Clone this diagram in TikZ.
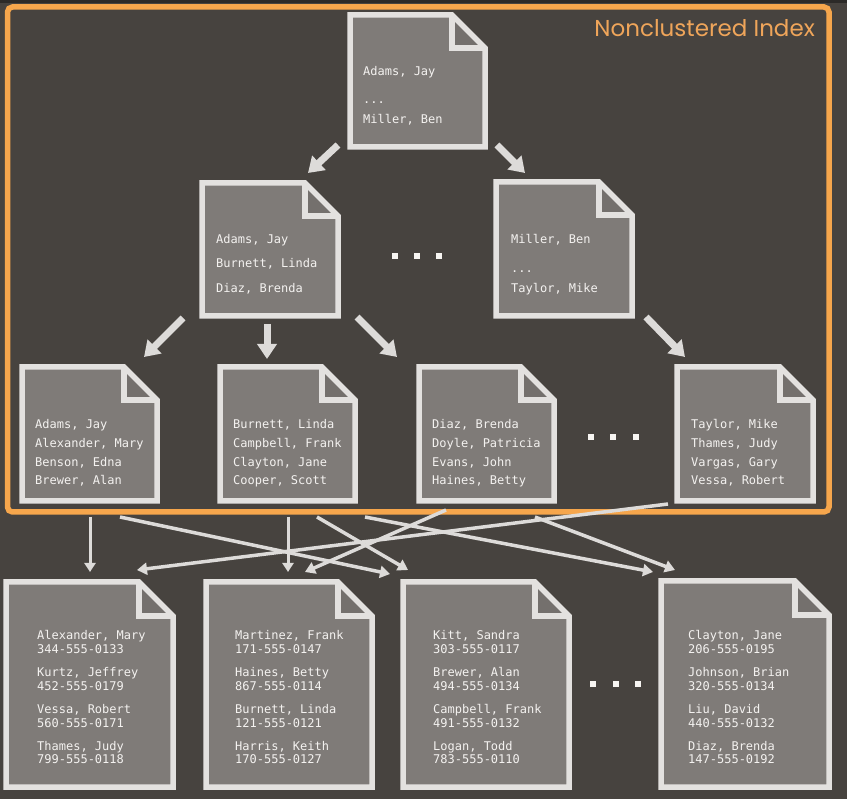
\documentclass[tikz,border=0pt]{standalone}
\usepackage{fontspec}
\newfontfamily\monof{DejaVu Sans Mono}
\newfontfamily\titlef{Poppins}
\usetikzlibrary{arrows.meta}
\definecolor{bgc}{HTML}{47433F}
\definecolor{topc}{HTML}{2C2A28}
\definecolor{pfill}{HTML}{7F7B78}
\definecolor{ffill}{HTML}{74706D}
\definecolor{pline}{HTML}{E3E1DF}
\definecolor{txtc}{HTML}{F4F2F0}
\definecolor{orangec}{HTML}{F6A64C}
\definecolor{titlec}{HTML}{EFA55A}
\definecolor{arrc}{HTML}{DDDBD9}
\definecolor{dotc}{HTML}{F7F5F2}
\newcommand\docpage[6]{%
  \node[pageframe, minimum width={(#4-#2)*1pt}, minimum height={(#5-#3)*1pt}] (#1) at ({(#2+#4)/2},{(#3+#5)/2}) {};
  \fill[pfill] (#2,#3) -- ({#4-#6},#3) -- (#4,{#3+#6}) -- (#4,#5) -- (#2,#5) -- cycle;
  \fill[ffill] ({#4-#6},#3) -- ({#4-#6},{#3+#6}) -- (#4,{#3+#6}) -- cycle;
  \draw[pageline] (#2,#3) -- ({#4-#6},#3) -- (#4,{#3+#6}) -- (#4,#5) -- (#2,#5) -- cycle;
  \draw[pageline] ({#4-#6},#3) -- ({#4-#6},{#3+#6}) -- (#4,{#3+#6});
}
\begin{document}
\begin{tikzpicture}[x=1pt,y=-1pt,
  pageframe/.style={shape=rectangle, inner sep=0pt, draw=none},
  pageline/.style={draw=pline, line width=5.5pt, line join=miter},
  txt/.style={text=txtc, align=left, inner sep=0pt, anchor=base west, font=\monof\fontsize{12}{14}\selectfont},
  idxtxt/.style={txt, anchor=north west, font=\monof\fontsize{12}{18.7}\selectfont},
  datatxt/.style={txt, anchor=north west, font=\monof\fontsize{12}{13.5}\selectfont},
  bigarr/.style={draw=arrc, line width=7pt, -{Triangle[width=19pt,length=15pt]}},
  smallarr/.style={draw=arrc, line width=3pt, -{Triangle[width=11pt,length=9pt]}},
  crossarr/.style={draw=arrc, line width=3.5pt, -{Triangle[width=12pt,length=10pt]}},
  dotsq/.style={fill=dotc, minimum size=6pt, inner sep=0pt, shape=rectangle},
  orangebox/.style={draw=orangec, line width=5.5pt, rounded corners=5pt}
]
\fill[bgc] (0,0) rectangle (847,799);
\useasboundingbox (0,0) rectangle (847,799);
\fill[topc] (0,0) rectangle (847,3);

% orange frame and title
\draw[orangebox] (7.5,7) rectangle (829,512);
\node[anchor=base east, text=titlec, inner sep=0pt, font=\titlef\fontsize{23}{23}\selectfont] (title) at (815,37) {Nonclustered Index};

% root page
\docpage{root}{350}{15}{485}{147}{33}
\node[txt] (rootT1) at (363,76) {Adams, Jay};
\node[txt] (rootT2) at (363,104) {...};
\node[txt] (rootT3) at (363,123.5) {Miller, Ben};

% level 2
\docpage{midL}{202}{183}{338}{316}{33}
\node[txt] (midLT1) at (216,243.5) {Adams, Jay};
\node[txt] (midLT2) at (216,268) {Burnett, Linda};
\node[txt] (midLT3) at (216,292.5) {Diaz, Brenda};
\docpage{midR}{496}{182}{632}{316}{33}
\node[txt] (midRT1) at (511,243.5) {Miller, Ben};
\node[txt] (midRT2) at (511,273) {...};
\node[txt] (midRT3) at (511,292.5) {Taylor, Mike};

% leaves
\docpage{leafA}{22}{367}{157}{501}{33}
\node[idxtxt] (leafAT) at (35,419.4) {Adams, Jay\\Alexander, Mary\\Benson, Edna\\Brewer, Alan};
\docpage{leafB}{220}{367}{355}{501}{33}
\node[idxtxt] (leafBT) at (233,419.4) {Burnett, Linda\\Campbell, Frank\\Clayton, Jane\\Cooper, Scott};
\docpage{leafC}{419}{367}{554}{501}{33}
\node[idxtxt] (leafCT) at (432,419.4) {Diaz, Brenda\\Doyle, Patricia\\Evans, John\\Haines, Betty};
\docpage{leafD}{677}{367}{813}{501}{33}
\node[idxtxt] (leafDT) at (691,419.4) {Taylor, Mike\\Thames, Judy\\Vargas, Gary\\Vessa, Robert};

% data pages
\docpage{dataA}{6}{582}{173}{787}{34}
\node[datatxt] (dataAT) at (37,630.4) {Alexander, Mary\\344-555-0133\\[9.9pt]Kurtz, Jeffrey\\452-555-0179\\[9.9pt]Vessa, Robert\\560-555-0171\\[9.9pt]Thames, Judy\\799-555-0118};
\docpage{dataB}{206}{582}{372}{787}{34}
\node[datatxt] (dataBT) at (235,630.4) {Martinez, Frank\\171-555-0147\\[9.9pt]Haines, Betty\\867-555-0114\\[9.9pt]Burnett, Linda\\121-555-0121\\[9.9pt]Harris, Keith\\170-555-0127};
\docpage{dataC}{403}{582}{569}{787}{34}
\node[datatxt] (dataCT) at (433,630.4) {Kitt, Sandra\\303-555-0117\\[9.9pt]Brewer, Alan\\494-555-0134\\[9.9pt]Campbell, Frank\\491-555-0132\\[9.9pt]Logan, Todd\\783-555-0110};
\docpage{dataD}{661}{581}{829}{787}{34}
\node[datatxt] (dataDT) at (688,630.4) {Clayton, Jane\\206-555-0195\\[9.9pt]Johnson, Brian\\320-555-0134\\[9.9pt]Liu, David\\440-555-0132\\[9.9pt]Diaz, Brenda\\147-555-0192};

% ellipsis dots
\foreach \i/\x in {1/395,2/417,3/439} \node[dotsq] (dm\i) at (\x,256) {};
\foreach \i/\x in {1/591,2/613,3/636} \node[dotsq] (dl\i) at (\x,437) {};
\foreach \i/\x in {1/593,2/616,3/638} \node[dotsq] (dd\i) at (\x,684) {};

% tree arrows (endpoints)
\coordinate (r1s) at (338,145); \coordinate (r1e) at (308,173);
\coordinate (r2s) at (497,145); \coordinate (r2e) at (525,173);
\coordinate (m1s) at (183,318); \coordinate (m1e) at (144,357);
\coordinate (m2s) at (267,324); \coordinate (m2e) at (267,359);
\coordinate (m3s) at (357,317); \coordinate (m3e) at (397,357);
\coordinate (m4s) at (646,317); \coordinate (m4e) at (685,357);
\draw[bigarr] (r1s) -- (r1e);
\draw[bigarr] (r2s) -- (r2e);
\draw[bigarr] (m1s) -- (m1e);
\draw[bigarr] (m2s) -- (m2e);
\draw[bigarr] (m3s) -- (m3e);
\draw[bigarr] (m4s) -- (m4e);

% leaf to data arrows
\coordinate (v1s) at (90,517); \coordinate (v1e) at (90,572);
\coordinate (v2s) at (288,517); \coordinate (v2e) at (288,572);
\coordinate (as) at (120,517); \coordinate (ae) at (390,574);
\coordinate (bs) at (317,517); \coordinate (be) at (408,570);
\coordinate (cs) at (365,517); \coordinate (ce) at (653,572);
\coordinate (ds) at (535,517); \coordinate (de) at (675,570);
\coordinate (es) at (446,510); \coordinate (ee) at (305,572);
\coordinate (fs) at (668,504); \coordinate (fe) at (137,570);
\draw[smallarr] (v1s) -- (v1e);
\draw[smallarr] (v2s) -- (v2e);
\draw[crossarr] (as) -- (ae);
\draw[crossarr] (bs) -- (be);
\draw[crossarr] (cs) -- (ce);
\draw[crossarr] (ds) -- (de);
\draw[crossarr] (es) -- (ee);
\draw[crossarr] (fs) -- (fe);
\end{tikzpicture}
\end{document}
